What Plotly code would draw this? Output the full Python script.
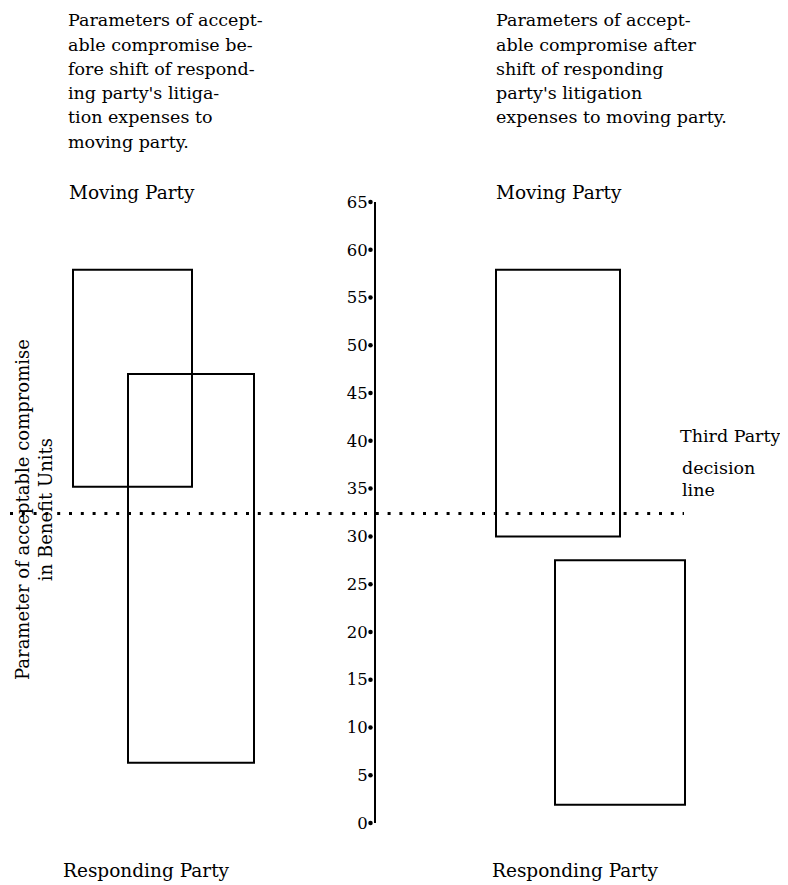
import plotly.graph_objects as go

# ---------------- data (benefit units) ----------------
panels = ["Before shift", "After shift"]
moving_low = [35.2, 30]
moving_high = [57.9, 57.9]
responding_low = [6.3, 1.9]
responding_high = [47, 27.5]
decision_line = 32.4
tick_values = [0, 5, 10, 15, 20, 25, 30, 35, 40, 45, 50, 55, 60, 65]
tick_labels = [str(v) for v in tick_values]

# ---------------- layout / style constants (page pixels) ----------------
PAGE_W, PAGE_H = 788, 885
BODY = 8                        # default browser body margin
W, H = PAGE_W - BODY, PAGE_H - BODY
PLOT_TOP, PLOT_BOT = 202, 823   # page rows of 65 and 0
AXIS_X = 375                    # page column of the central scale
moving_center = [132.5, 558]
moving_width = [119, 124]
responding_center = [191, 620]
responding_width = [126, 130]
FONT = "DejaVu Serif"
FS = 17.5


def py(page_y):
    """page row -> paper y"""
    return (PLOT_BOT - page_y) / (PLOT_BOT - PLOT_TOP)


fig = go.Figure()

box_style = dict(color="rgba(0,0,0,0)", line=dict(color="black", width=2))
fig.add_trace(go.Bar(
    x=moving_center,
    y=[h - l for h, l in zip(moving_high, moving_low)],
    base=moving_low,
    width=moving_width,
    marker=box_style,
    name="Moving Party",
    hoverinfo="skip",
))
fig.add_trace(go.Bar(
    x=responding_center,
    y=[h - l for h, l in zip(responding_high, responding_low)],
    base=responding_low,
    width=responding_width,
    marker=box_style,
    name="Responding Party",
    hoverinfo="skip",
))

# third-party decision line (dotted)
fig.add_trace(go.Scatter(
    x=[10, 684], y=[decision_line, decision_line],
    mode="lines",
    line=dict(color="black", width=3, dash="3px,8.8px"),
    hoverinfo="skip",
))

# bullet dots next to the scale
fig.add_trace(go.Scatter(
    x=[AXIS_X - 4.5] * len(tick_values), y=tick_values,
    mode="markers",
    marker=dict(color="black", size=4.5),
    hoverinfo="skip",
    cliponaxis=False,
))

ann = []


def text(x, baseline, t, size=FS, **kw):
    ann.append(dict(x=x, y=py(baseline - 0.33 * size), xref="x", yref="paper", text=t,
                    showarrow=False, xanchor="left", yanchor="middle",
                    font=dict(family=FONT, size=size, color="black"), **kw))


left_lines = ["Parameters of accept-", "able compromise be-", "fore shift of respond-",
              "ing party's litiga-", "tion expenses to", "moving party."]
right_lines = ["Parameters of accept-", "able compromise after", "shift of responding",
               "party's litigation", "expenses to moving party."]
LEAD = 24.3
for i, t in enumerate(left_lines):
    text(66, 26 + LEAD * i, t)
for i, t in enumerate(right_lines):
    text(494, 26 + LEAD * i, t)

text(67, 199, "Moving Party", size=18.5)
text(494, 199, "Moving Party", size=18.5)
text(61, 877, "Responding Party", size=18.5)
text(490, 877, "Responding Party", size=18.5)
text(678, 442, "Third Party")
text(680, 474, "decision")
text(680, 496, "line")

ann.append(dict(x=34, y=py(510), xref="x", yref="paper",
                text="Parameter of acceptable compromise<br>in Benefit Units",
                textangle=-90, showarrow=False, xanchor="center", yanchor="middle",
                font=dict(family=FONT, size=18, color="black")))

fig.update_layout(
    width=W, height=H,
    margin=dict(l=0, r=0, t=PLOT_TOP - BODY, b=PAGE_H - PLOT_BOT, pad=0),
    paper_bgcolor="white", plot_bgcolor="white",
    barmode="overlay",
    showlegend=False,
    annotations=ann,
    xaxis=dict(range=[BODY, PAGE_W], visible=False, fixedrange=True),
    yaxis=dict(
        range=[0, 65],
        anchor="free", position=(AXIS_X - BODY) / W, side="left",
        showline=True, linecolor="black", linewidth=2,
        showgrid=False, zeroline=False,
        ticks="", tickvals=tick_values, ticktext=tick_labels,
        ticklabelstandoff=3,
        tickfont=dict(family=FONT, size=16.5, color="black"),
        fixedrange=True,
    ),
)

fig.write_html("out.html")
